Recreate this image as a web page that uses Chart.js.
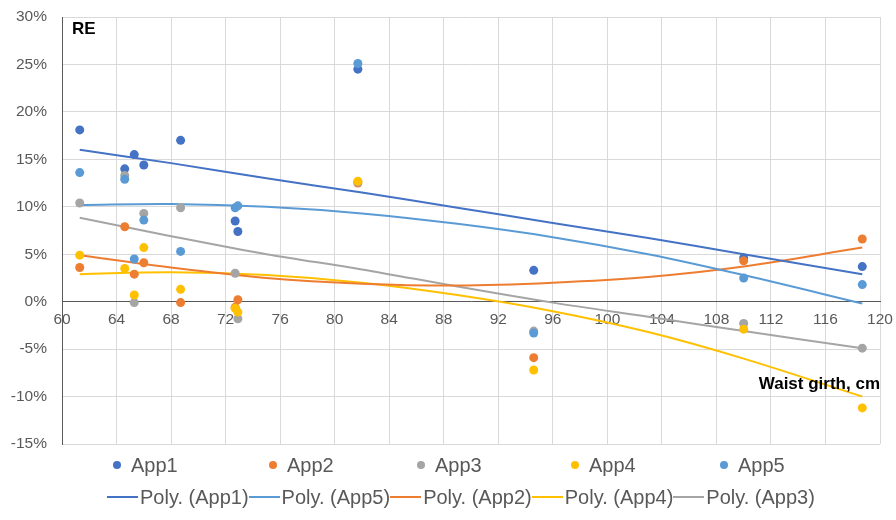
<!DOCTYPE html>
<html>
<head>
<meta charset="utf-8">
<script src="https://cdn.jsdelivr.net/npm/chart.js@4.4.1/dist/chart.umd.min.js"></script>
<style>
  html, body { margin: 0; padding: 0; background: #fff; }
  #wrap { position: relative; width: 896px; height: 520px; font-family: "Liberation Sans", Arial, sans-serif; }
  #c { position: absolute; left: 0; top: 0; }
  .lbl { position: absolute; font-weight: bold; font-size: 17px; color: #000; line-height: 1; white-space: nowrap; }
  .leg { position: absolute; font-size: 20px; color: #595959; line-height: 1; white-space: nowrap; display: flex; align-items: center; }
  .dot { width: 8px; height: 8px; border-radius: 50%; margin-right: 10px; }
  .ln { width: 31px; height: 2px; margin-right: 2px; }
</style>
</head>
<body>
<div id="wrap">
  <canvas id="c" width="896" height="520"></canvas>
  <div class="lbl" style="left:72px; top:20px;">RE</div>
  <div class="lbl" style="right:16px; top:375px;">Waist girth, cm</div>
  <div id="legend1"></div>
  <div id="legend2"></div>
</div>
<script>
// ---- data ----
const waist = [61.3, 64.6, 65.3, 66.0, 68.7, 72.7, 72.9, 81.7, 94.6, 110.0, 118.7];
const app1 = [18.1, 14.0, 15.5, 14.4, 17.0, 8.5, 7.4, 24.5, 3.3, 4.6, 3.7];
const app2 = [3.6, 7.9, 2.9, 4.1, -0.1, -0.6, 0.2, 12.5, -5.9, 4.3, 6.6];
const app3 = [10.4, 13.3, -0.1, 9.3, 9.9, 3.0, -1.8, 12.6, -3.1, -2.3, -4.9];
const app4 = [4.9, 3.5, 0.7, 5.7, 1.3, -0.7, -1.1, 12.7, -7.2, -2.9, -11.2];
const app5 = [13.6, 12.9, 4.5, 8.6, 5.3, 9.9, 10.1, 25.1, -3.3, 2.5, 1.8];

// trend lines
const trendX = [61.3, 68, 75, 82, 89, 96, 103, 110, 118.7];
const polyApp1 = [16.0, 14.6, 13.0, 11.5, 9.9, 8.3, 6.7, 5.0, 2.9];
const polyApp5 = [10.2, 10.3, 10.0, 9.3, 8.2, 6.8, 5.0, 2.8, -0.2];
const polyApp2 = [4.9, 3.6, 2.5, 1.9, 1.7, 2.0, 2.6, 3.7, 5.7];
const polyApp4 = [2.9, 3.1, 2.8, 2.0, 0.7, -1.0, -3.2, -6.0, -10.0];
const polyApp3 = [8.85, 6.9, 5.0, 3.4, 1.6, -0.1, -1.6, -3.1, -4.9];

const xTicks = [60, 64, 68, 72, 76, 80, 84, 88, 92, 96, 100, 104, 108, 112, 116, 120];
const yTicks = [-15, -10, -5, 0, 5, 10, 15, 20, 25, 30];

const colors = { app1: '#4472C4', app2: '#ED7D31', app3: '#A5A5A5', app4: '#FFC000', app5: '#5B9BD5' };

function pts(xs, ys) { return xs.map((x, i) => ({ x: x, y: ys[i] })); }

const pointSeries = [
  { name: 'App1', data: app1, color: colors.app1, order: 5 },
  { name: 'App2', data: app2, color: colors.app2, order: 4 },
  { name: 'App3', data: app3, color: colors.app3, order: 3 },
  { name: 'App4', data: app4, color: colors.app4, order: 2 },
  { name: 'App5', data: app5, color: colors.app5, order: 1 }
];
const lineSeries = [
  { name: 'Poly. (App1)', data: polyApp1, color: colors.app1 },
  { name: 'Poly. (App5)', data: polyApp5, color: colors.app5 },
  { name: 'Poly. (App2)', data: polyApp2, color: colors.app2 },
  { name: 'Poly. (App4)', data: polyApp4, color: colors.app4 },
  { name: 'Poly. (App3)', data: polyApp3, color: colors.app3 }
];

const datasets = [];
pointSeries.forEach(s => datasets.push({
  label: s.name, data: pts(waist, s.data), order: s.order,
  backgroundColor: s.color, borderColor: s.color, pointRadius: 4.5, pointHoverRadius: 4.5,
  pointBorderWidth: 0, showLine: false
}));
lineSeries.forEach(s => datasets.push({
  label: s.name, data: pts(trendX, s.data), order: 10, type: 'line',
  borderColor: s.color, backgroundColor: s.color, borderWidth: 2, pointRadius: 0,
  tension: 0.35, fill: false
}));

const tickFont = { family: '"Liberation Sans", Arial, sans-serif', size: 15.5 };

new Chart(document.getElementById('c'), {
  type: 'scatter',
  data: { datasets: datasets },
  options: {
    responsive: false, animation: false, devicePixelRatio: 1,
    layout: { padding: { top: 17, right: 16, bottom: 76, left: 0 } },
    plugins: { legend: { display: false }, tooltip: { enabled: false } },
    scales: {
      x: {
        type: 'linear', min: 60, max: 120, position: { y: 0 },
        afterBuildTicks: (sc) => { sc.ticks = xTicks.map(v => ({ value: v })); },
        afterFit: (sc) => { sc.paddingLeft = 0; sc.paddingRight = 0; },
        grid: { color: '#D9D9D9', lineWidth: 1, drawTicks: false },
        border: { display: true, color: '#595959', width: 1 },
        ticks: { color: '#595959', font: tickFont, padding: 9, maxRotation: 0, autoSkip: false }
      },
      y: {
        type: 'linear', min: -15, max: 30,
        afterBuildTicks: (sc) => { sc.ticks = yTicks.map(v => ({ value: v })); },
        afterFit: (sc) => { sc.width = 62; sc.paddingTop = 0; sc.paddingBottom = 0; },
        grid: { color: '#D9D9D9', lineWidth: 1, drawTicks: false },
        border: { display: true, color: '#595959', width: 1 },
        ticks: { color: '#595959', font: tickFont, padding: 15, callback: v => v + '%' }
      }
    }
  }
});

// HTML legend
const l1 = document.getElementById('legend1');
const row1Left = [113, 269, 417, 571, 720];
pointSeries.forEach((s, i) => {
  const d = document.createElement('div');
  d.className = 'leg';
  d.style.left = row1Left[i] + 'px';
  d.style.top = '455px';
  d.innerHTML = '<span class="dot" style="background:' + s.color + '"></span><span>' + s.name + '</span>';
  l1.appendChild(d);
});
const l2 = document.getElementById('legend2');
const row2 = document.createElement('div');
row2.className = 'leg';
row2.style.left = '107px';
row2.style.top = '487px';
lineSeries.forEach(s => {
  row2.innerHTML += '<span class="ln" style="background:' + s.color + '"></span><span>' + s.name + '</span>';
});
l2.appendChild(row2);
</script>
</body>
</html>
